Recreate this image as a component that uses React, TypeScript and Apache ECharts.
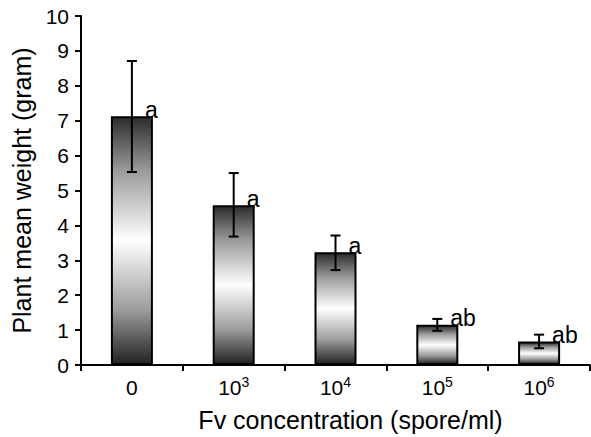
import React, { useEffect, useRef } from "react";
import * as echarts from "echarts";

const categories = ["0", "10^3", "10^4", "10^5", "10^6"];
const meanWeight = [7.13, 4.58, 3.23, 1.15, 0.67];
const errLow = [5.53, 3.68, 2.72, 0.98, 0.48];
const errHigh = [8.71, 5.5, 3.71, 1.32, 0.87];
const letters = ["a", "a", "a", "ab", "ab"];
const yTicks = [0, 1, 2, 3, 4, 5, 6, 7, 8, 9, 10];

const FONT = "'Liberation Sans', Arial, Helvetica, sans-serif";

export default function App() {
  const ref = useRef<HTMLDivElement>(null);
  useEffect(() => {
    document.body.style.margin = "0";
    const chart = echarts.init(ref.current!, null, { renderer: "svg" });
    const gradient = new echarts.graphic.LinearGradient(0, 0, 0, 1, [
      { offset: 0, color: "#2c2c2c" },
      { offset: 0.22, color: "#9c9c9c" },
      { offset: 0.5, color: "#ffffff" },
      { offset: 0.78, color: "#9c9c9c" },
      { offset: 1, color: "#222222" },
    ]);
    chart.setOption({
      animation: false,
      backgroundColor: "#ffffff",
      textStyle: { fontFamily: FONT, color: "#000" },
      grid: { left: 81, right: 1, top: 16, bottom: 65, containLabel: false },
      xAxis: {
        type: "category",
        data: categories,
        boundaryGap: true,
        name: "Fv concentration (spore/ml)",
        nameLocation: "middle",
        nameGap: 42,
        nameTextStyle: { fontSize: 25, color: "#000", fontFamily: FONT, padding: [0, 0, 0, 30] },
        axisLine: { lineStyle: { color: "#000", width: 2 } },
        axisTick: { show: true, alignWithLabel: false, interval: 0, length: 6, lineStyle: { color: "#000", width: 2 } },
        axisLabel: {
          interval: 0,
          margin: 10,
          color: "#000",
          fontSize: 21,
          fontFamily: FONT,
          formatter: (v: string) => {
            const parts = v.split("^");
            if (parts.length === 2) return `{b|${parts[0]}}{s|${parts[1]}}`;
            return `{b|${v}}`;
          },
          rich: {
            b: { fontSize: 21, lineHeight: 24, fontFamily: FONT, color: "#000" },
            s: { fontSize: 14, lineHeight: 14, verticalAlign: "top", fontFamily: FONT, color: "#000" },
          },
        },
        splitLine: { show: false },
      },
      yAxis: {
        type: "value",
        min: yTicks[0],
        max: yTicks[yTicks.length - 1],
        interval: 1,
        name: "Plant mean weight (gram)",
        nameLocation: "middle",
        nameGap: 31,
        nameTextStyle: { fontSize: 25, color: "#000", fontFamily: FONT, padding: [0, 0, 0, 0] },
        axisLine: { show: true, lineStyle: { color: "#000", width: 2 } },
        axisTick: { show: true, length: 6, lineStyle: { color: "#000", width: 2 } },
        axisLabel: { margin: 12, color: "#000", fontSize: 21, fontFamily: FONT },
        splitLine: { show: false },
      },
      series: [
        {
          type: "bar",
          data: meanWeight.map((v, i) => ({
            value: v,
            label: { formatter: letters[i] },
          })),
          barWidth: 42,
          itemStyle: { color: gradient, borderColor: "#000", borderWidth: 2 },
          label: {
            show: true,
            position: [34, 5],
            align: "left",
            verticalAlign: "bottom",
            fontSize: 23,
            color: "#000",
            fontFamily: FONT,
          },
          z: 2,
        },
        {
          type: "custom",
          data: categories.map((_, i) => [i, errLow[i], errHigh[i]]),
          z: 5,
          renderItem: (params: any, api: any) => {
            const i = api.value(0);
            const lo = api.coord([i, api.value(1)]);
            const hi = api.coord([i, api.value(2)]);
            const hw = 5;
            const style = { stroke: "#000", lineWidth: 2 };
            return {
              type: "group",
              children: [
                { type: "line", shape: { x1: hi[0], y1: hi[1], x2: lo[0], y2: lo[1] }, style },
                { type: "line", shape: { x1: hi[0] - hw, y1: hi[1], x2: hi[0] + hw, y2: hi[1] }, style },
                { type: "line", shape: { x1: lo[0] - hw, y1: lo[1], x2: lo[0] + hw, y2: lo[1] }, style },
              ],
            };
          },
        },
      ],
    });
    return () => chart.dispose();
  }, []);
  return <div ref={ref} style={{ width: 591, height: 437 }} />;
}
